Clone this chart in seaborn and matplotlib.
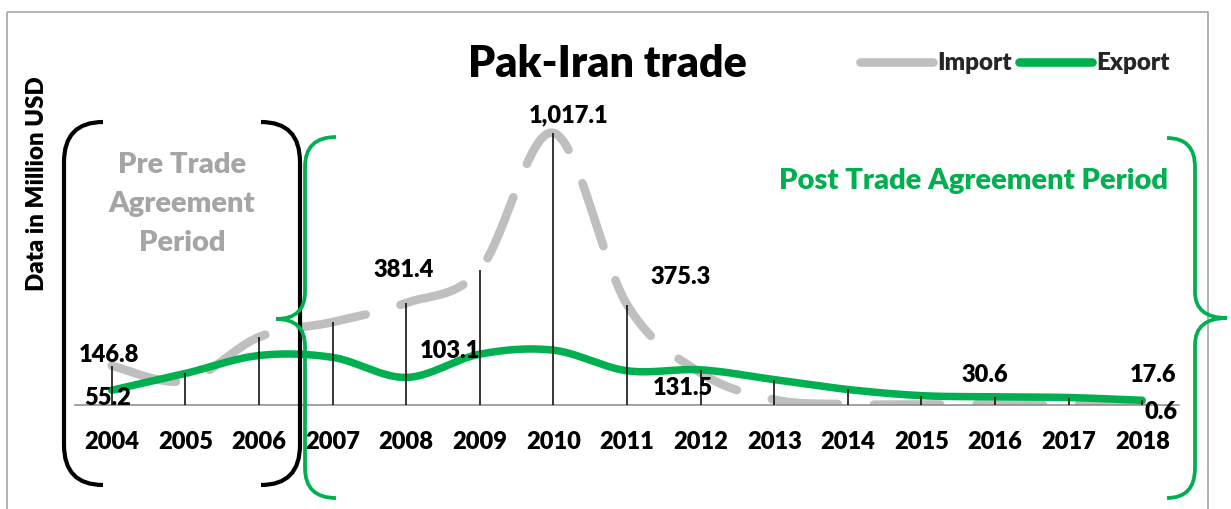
import numpy as np
import matplotlib
matplotlib.use("Agg")
import matplotlib.pyplot as plt
import seaborn as sns
from matplotlib.path import Path
from matplotlib.patches import PathPatch, Rectangle
from matplotlib.lines import Line2D

# ---------------- data ----------------
years = [2004, 2005, 2006, 2007, 2008, 2009, 2010, 2011, 2012, 2013, 2014, 2015, 2016, 2017, 2018]
imports = [146.8, 90, 254, 310, 381.4, 505, 1017.1, 375.3, 120, 20, 3, 2, 2, 2, 0.6]
exports = [55.2, 118, 185, 178, 103.1, 190, 205, 128, 131.5, 95, 58, 35, 30.6, 28, 17.6]
series_names = ["Import", "Export"]
title_text = "Pak-Iran trade"
y_label = "Data in Million USD"
pre_label = "Pre Trade\nAgreement\nPeriod"
post_label = "Post Trade Agreement Period"

# which points carry a data label
label_series = ["Import", "Export", "Import", "Export", "Import", "Import", "Export", "Export", "Export", "Import"]
label_years = [2004, 2004, 2008, 2008, 2010, 2011, 2012, 2016, 2018, 2018]
# label offsets from their point (pixels, right/up)
label_offsets_px = [(-3, 11), (-4, -8), (-3, 33), (44, 26), (15, 18), (54, 28), (-18, -18), (-10, 22), (11, 25), (19, -7)]

GRAY = "#BFBFBF"
GREEN = "#00B050"
TEXT_GRAY = "#A5A5A5"
WEIGHT = "heavy"

sns.set_theme(style="white")
plt.rcParams["font.family"] = ["Lato", "DejaVu Sans"]

W, H, DPI = 1231, 509, 100
fig = plt.figure(figsize=(W / DPI, H / DPI), dpi=DPI)
fig.patch.set_facecolor("white")


def fx(px):
    return px / W


def fy(py):
    return 1 - py / H


ax = fig.add_axes([fx(75), fy(405), fx(1179) - fx(75), fy(100) - fy(405)])
ax.set_facecolor("none")
ax.set_xlim(-0.5, len(years) - 0.5)
ax.set_ylim(0, 1140)


def smooth(xv, yv, n=40):
    P = np.column_stack([xv, yv]).astype(float)
    Pe = np.vstack([P[0], P, P[-1]])
    t = np.linspace(0, 1, n, endpoint=False)[:, None]
    out = []
    for i in range(len(P) - 1):
        p0, p1, p2, p3 = Pe[i], Pe[i + 1], Pe[i + 2], Pe[i + 3]
        c1 = p1 + (p2 - p0) / 6
        c2 = p2 - (p3 - p1) / 6
        b = (1 - t) ** 3 * p1 + 3 * (1 - t) ** 2 * t * c1 + 3 * (1 - t) * t ** 2 * c2 + t ** 3 * p2
        out.append(b)
    out.append(P[-1][None, :])
    return np.vstack(out)


xi = np.arange(len(years))
imp_s = smooth(xi, imports)
exp_s = smooth(xi, exports)

sns.lineplot(x=imp_s[:, 0], y=imp_s[:, 1], sort=False, estimator=None, color=GRAY, linewidth=6.2, ax=ax)
ln = ax.lines[-1]
ln.set_linestyle((0, (7.7, 4.2)))
ln.set_dash_capstyle("round")
ln.set_solid_capstyle("round")
sns.lineplot(x=exp_s[:, 0], y=exp_s[:, 1], sort=False, estimator=None, color=GREEN, linewidth=5.4, ax=ax)
ax.lines[-1].set_solid_capstyle("round")

# drop lines
tops = np.maximum(imports, exports)
ax.vlines(xi, 0, tops, color="black", linewidth=1.1, zorder=5)

# data labels
values = {"Import": imports, "Export": exports}
for s, yr, (dx, dy) in zip(label_series, label_years, label_offsets_px):
    i = years.index(yr)
    v = values[s][i]
    ax.annotate(f"{v:,.1f}", xy=(i, v), xytext=(dx * 0.72, dy * 0.72), textcoords="offset points",
                ha="center", va="center", fontsize=17, fontweight=WEIGHT, color="black",
                annotation_clip=False, zorder=6)

# axes styling
for sp in ["left", "right", "top"]:
    ax.spines[sp].set_visible(False)
ax.spines["bottom"].set_color("#888888")
ax.spines["bottom"].set_linewidth(1.1)
ax.set_yticks([])
ax.set_xticks(xi)
ax.set_xticklabels([str(y) for y in years])
ax.tick_params(axis="x", length=0, pad=18.5, labelsize=17, colors="black")
for lab in ax.get_xticklabels():
    lab.set_fontweight(WEIGHT)
ax.set_xlabel("")
ax.set_ylabel("")
ax.grid(False)

# texts
fig.text(fx(607), fy(77), title_text, ha="center", va="baseline", fontsize=31, fontweight=WEIGHT, color="black")
fig.text(fx(37), fy(184), y_label, rotation=90, ha="center", va="center", fontsize=17.3, fontweight=WEIGHT, color="black")
fig.text(fx(182), fy(204), pre_label, ha="center", va="center", multialignment="center", linespacing=1.6,
         fontsize=21, fontweight=WEIGHT, color=TEXT_GRAY)
fig.text(fx(1168), fy(181), post_label, ha="right", va="center", fontsize=21.0, fontweight=WEIGHT, color=GREEN)

# legend
handles = [Line2D([], [], color=GRAY, linewidth=6.2, solid_capstyle="round"),
           Line2D([], [], color=GREEN, linewidth=6.2, solid_capstyle="round")]
fig.legend(handles, series_names, loc="center left", bbox_to_anchor=(fx(860), fy(63)), ncol=2, frameon=False,
           prop={"weight": WEIGHT, "size": 17.4}, handlelength=3.0, handletextpad=0.2, columnspacing=0.3,
           borderpad=0, borderaxespad=0)

# overlay for brackets and frame
ov = fig.add_axes([0, 0, 1, 1])
ov.set_xlim(0, W)
ov.set_ylim(H, 0)
ov.axis("off")
ov.patch.set_alpha(0)

ov.add_patch(Rectangle((7, 12), 1201, 520, fill=False, edgecolor="#A6A6A6", linewidth=1.2))

C, L = Path.CURVE3, Path.LINETO
M = Path.MOVETO


def draw(verts, codes, color, lw):
    ov.add_patch(PathPatch(Path(verts, codes), fill=False, edgecolor=color, linewidth=lw, capstyle="butt"))


# black ( and )
draw([(103, 122), (64, 122), (64, 162), (64, 445), (64, 485), (103, 485)], [M, C, C, L, C, C], "black", 3.0)
draw([(261, 122), (300, 122), (300, 162), (300, 445), (300, 485), (261, 485)], [M, C, C, L, C, C], "black", 3.0)
# green { and }
draw([(336, 137), (305, 137), (305, 167), (305, 292), (305, 319), (276, 319),
      (305, 319), (305, 346), (305, 468), (305, 498), (336, 498)],
     [M, C, C, L, C, C, C, C, L, C, C], GREEN, 2.7)
draw([(1167, 138), (1195, 138), (1195, 167), (1195, 292), (1195, 318), (1227, 318),
      (1195, 318), (1195, 345), (1195, 468), (1195, 498), (1167, 498)],
     [M, C, C, L, C, C, C, C, L, C, C], GREEN, 2.7)

fig.savefig("out.png", dpi=DPI, facecolor="white")
